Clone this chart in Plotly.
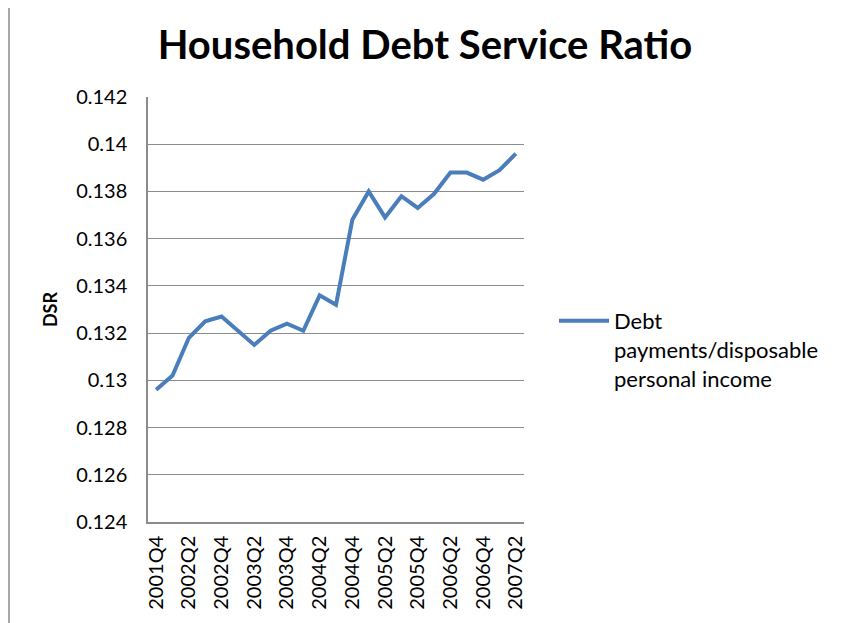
import plotly.graph_objects as go

# quarterly categories, 2001Q4 .. 2007Q2
quarters = ["2001Q4"] + [f"{y}Q{q}" for y in range(2002, 2007) for q in range(1, 5)] + ["2007Q1", "2007Q2"]
dsr = [0.1296, 0.1302, 0.1318, 0.1325, 0.1327, 0.1321, 0.1315, 0.1321, 0.1324, 0.1321,
       0.1336, 0.1332, 0.1368, 0.1380, 0.1369, 0.1378, 0.1373, 0.1379, 0.1388, 0.1388,
       0.1385, 0.1389, 0.1396]
tick_labels = quarters[::2]
series_name = "Debt<br>payments/disposable<br>personal income"

# page body has an 8px margin, so the figure is a bit smaller than the window
W, H = 843, 615
L, R, T, B = 140, 327, 89, 101
pw, ph = W - L - R, H - T - B

fig = go.Figure()
fig.add_trace(go.Scatter(x=quarters, y=dsr, mode="lines", name=series_name,
                         line=dict(color="#4A7EBB", width=4)))

# outer chart frame (Excel-style)
fig.add_shape(type="rect", xref="paper", yref="paper",
              x0=-(L - 1) / pw, x1=(W - L - 4) / pw, y0=-(B + 20) / ph, y1=1 + (T + 20) / ph,
              line=dict(color="#8C8C8C", width=1.5), layer="below")

fig.update_layout(
    width=W, height=H,
    margin=dict(l=L, r=R, t=T, b=B, autoexpand=False),
    paper_bgcolor="white", plot_bgcolor="white",
    font=dict(family="Lato, Liberation Sans, sans-serif", color="black"),
    title=dict(text="<b>Household Debt Service Ratio</b>", x=(425 - 8 - L) / pw, xanchor="center",
               xref="paper", y=1 - 37 / H, yanchor="middle", font=dict(size=40)),
    showlegend=True,
    legend=dict(x=(554 - 8 - L) / pw, xanchor="left", y=(H - B - (300 - 8)) / ph,
                yanchor="top", valign="top", font=dict(size=22), bgcolor="rgba(0,0,0,0)",
                itemwidth=50),
)
fig.update_xaxes(type="category", tickmode="array", tickvals=tick_labels, ticktext=tick_labels,
                 tickangle=-90, tickfont=dict(size=20), showgrid=False, ticklabelstandoff=4,
                 showline=True, linecolor="#8C8C8C", linewidth=1.5, ticks="",
                 range=[-0.5, len(quarters) - 0.5])
fig.update_yaxes(range=[0.124, 0.142], dtick=0.002, tickformat="~g", tickfont=dict(size=20),
                 showgrid=True, gridcolor="#8C8C8C", gridwidth=1, ticklabelstandoff=15,
                 showline=True, linecolor="#8C8C8C", linewidth=1.5, ticks="",
                 title=dict(text="<b>DSR</b>", font=dict(size=18), standoff=14),
                 zeroline=False)

fig.write_html("out.html")
